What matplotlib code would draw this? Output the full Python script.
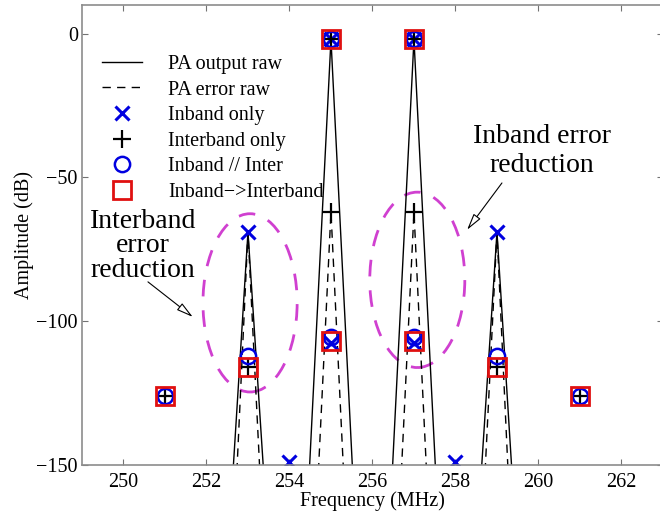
import numpy as np
import matplotlib
matplotlib.use('Agg')
import matplotlib.pyplot as plt
from matplotlib.patches import Ellipse
from matplotlib.lines import Line2D

# spectrum of the raw PA output and raw PA error (dB), one sample per MHz
freq = [249, 250, 251, 252, 253, 254, 255, 256, 257, 258, 259, 260, 261, 262, 263]
pa_out_raw = [-300, -300, -300, -300, -69, -290, -2, -290, -2, -290, -69, -300, -300, -300, -300]
pa_err_raw = [-380, -380, -380, -380, -69, -360, -62, -360, -62, -360, -69, -380, -380, -380, -380]

# residual levels after each correction scheme
f_inband = [253, 254, 255, 255, 257, 257, 258, 259]
a_inband = [-69, -149, -2, -107.5, -2, -107.5, -149, -69]

f_inter = [251, 253, 255, 255, 257, 257, 259, 261]
a_inter = [-126, -116, -2, -62, -2, -62, -116, -126]

f_par = [251, 253, 255, 255, 257, 257, 259, 261]
a_par = [-126, -112, -2, -105.5, -2, -105.5, -112, -126]

f_seq = [251, 253, 255, 255, 257, 257, 259, 261]
a_seq = [-126, -116, -2, -107, -2, -107, -116, -126]

matplotlib.rcParams['font.family'] = 'serif'
matplotlib.rcParams['font.serif'] = ['Liberation Serif', 'DejaVu Serif']
matplotlib.rcParams['font.size'] = 14.5

fig = plt.figure(figsize=(6.6, 5.14), dpi=100)
ax = fig.add_axes([0.1242, 0.0953, 0.8803, 0.895])

dash = (0, (6, 4.5))
ax.plot(freq, pa_out_raw, '-k', lw=1.0)
ax.plot(freq, pa_err_raw, color='k', ls=dash, lw=1.0)
ax.plot(f_inband, a_inband, 'x', color='#0000e0', ms=10, mew=2.2, ls='none')
ax.plot(f_inter, a_inter, '+', color='k', ms=13, mew=1.6, ls='none')
ax.plot(f_par, a_par, 'o', mfc='none', mec='#0000e0', ms=11, mew=1.8, ls='none')
ax.plot(f_seq, a_seq, 's', mfc='none', mec='#e01010', ms=12.5, mew=2.0, ls='none')

# highlight the error reduction regions
for cx, cy, w, h in [(253.05, -93.6, 2.27, 62), (257.08, -85.6, 2.29, 61)]:
    ax.add_patch(Ellipse((cx, cy), w, h, fill=False, ec='#d040d0', lw=2.0,
                         ls=(0, (6, 5))))

# va='baseline' pins the last line of each block
ax.text(250.47, -84.6, 'Interband\nerror\nreduction', fontsize=20,
        ha='center', va='baseline', linespacing=0.98)
ax.text(260.08, -48.0, 'Inband error\nreduction', fontsize=20,
        ha='center', va='baseline', linespacing=1.21)
ax.annotate('', xy=(251.67, -98.5), xytext=(250.59, -86.3),
            arrowprops=dict(arrowstyle='-|>,head_length=0.7,head_width=0.18',
                            color='k', lw=0.8, fc='w', shrinkA=0, shrinkB=0))
ax.annotate('', xy=(258.28, -68.2), xytext=(259.12, -51.9),
            arrowprops=dict(arrowstyle='-|>,head_length=0.7,head_width=0.18',
                            color='k', lw=0.8, fc='w', shrinkA=0, shrinkB=0))

ax.set_xlim(249, 263)
ax.set_ylim(-150, 10)
ax.set_xticks(np.arange(250, 263, 2))
ax.set_yticks([-150, -100, -50, 0])
ax.tick_params(direction='in', top=True, right=True, length=4, width=0.8,
               color='0.45', labelsize=14.5)
ax.tick_params(axis='x', pad=6)
ax.tick_params(axis='y', pad=3)
for s in ax.spines.values():
    s.set_color('0.55')
    s.set_linewidth(1.2)

ax.set_xlabel('Frequency (MHz)', labelpad=-1)
ax.set_ylabel('Amplitude (dB)', labelpad=2)

handles = [
    Line2D([], [], color='k', lw=1.0),
    Line2D([], [], color='k', ls=dash, lw=1.0),
    Line2D([], [], marker='x', color='#0000e0', ms=10, mew=2.2, ls='none'),
    Line2D([], [], marker='+', color='k', ms=13, mew=1.6, ls='none'),
    Line2D([], [], marker='o', mfc='none', mec='#0000e0', ms=11, mew=1.8, ls='none'),
    Line2D([], [], marker='s', mfc='none', mec='#e01010', ms=12.5, mew=2.0, ls='none'),
]
labels = ['PA output raw', 'PA error raw', 'Inband only', 'Interband only',
          'Inband // Inter', 'Inband\u2212>Interband']
ax.legend(handles, labels, loc='upper left', bbox_to_anchor=(0.0344, 0.8915),
          frameon=False, borderpad=0, borderaxespad=0, handlelength=2.0,
          handletextpad=1.3, labelspacing=0.32, fontsize=14.5)

fig.savefig('out.png', dpi=100)
